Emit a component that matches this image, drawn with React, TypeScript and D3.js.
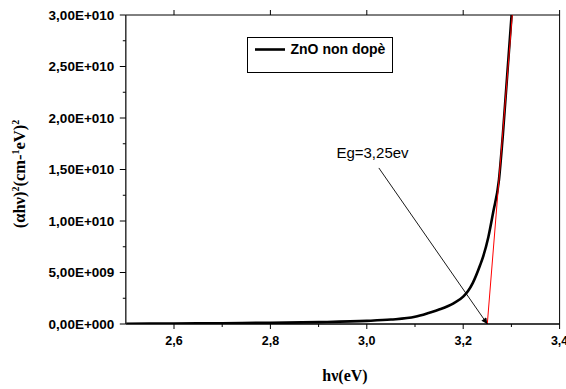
import React from "react";
import * as d3 from "d3";

// Tauc plot data: photon energy (eV) vs (αhν)² (cm⁻¹·eV)²
const photonEnergy = [2.5, 2.6, 2.7, 2.8, 2.9, 3.0, 3.05, 3.1, 3.13, 3.15, 3.18, 3.2, 3.21, 3.22, 3.235, 3.2417, 3.252, 3.2624, 3.2742, 3.282, 3.3004];
const taucValue = [2e7, 5e7, 8e7, 1.2e8, 1.8e8, 3.0e8, 4.3e8, 7.0e8, 1.1e9, 1.4e9, 2.0e9, 2.65e9, 3.2e9, 4.0e9, 5.7e9, 6.6e9, 8.4e9, 1.09e10, 1.40e10, 1.82e10, 3.0e10];

// Linear extrapolation of the absorption edge
const bandGap = 3.25;
const tangentTop = { x: 3.3018, y: 3.0e10 };

const xTicks = [2.6, 2.8, 3.0, 3.2, 3.4];
const xTickLabels = ["2,6", "2,8", "3,0", "3,2", "3,4"];
const xMinorTicks = [2.7, 2.9, 3.1, 3.3];
const yTicks = [0, 5e9, 1e10, 1.5e10, 2e10, 2.5e10, 3e10];
const yTickLabels = ["0,00E+000", "5,00E+009", "1,00E+010", "1,50E+010", "2,00E+010", "2,50E+010", "3,00E+010"];
const yMinorTicks = [2.5e9, 7.5e9, 1.25e10, 1.75e10, 2.25e10, 2.75e10];

const seriesName = "ZnO non dopè";
const annotationText = "Eg=3,25ev";
const annotationAnchor = { x: 3.025, y: 1.515e10 };
const annotationTextPos = { x: 2.937, y: 1.61e10 };

const W = 566;
const H = 389;
const plot = { left: 125.8, right: 559.6, top: 15, bottom: 324 };

export default function App() {
  const x = d3.scaleLinear().domain([2.5, 3.4]).range([plot.left, plot.right]);
  const y = d3.scaleLinear().domain([0, 3e10]).range([plot.bottom, plot.top]);

  const points: [number, number][] = photonEnergy.map((e, i) => [e, taucValue[i]]);
  const line = d3
    .line<[number, number]>()
    .x((d) => x(d[0]))
    .y((d) => y(d[1]))
    .curve(d3.curveMonotoneX);

  const sans = "'Liberation Sans', Arial, sans-serif";
  const serif = "'Liberation Serif', 'Times New Roman', serif";

  // arrow geometry
  const ax1 = x(annotationAnchor.x);
  const ay1 = y(annotationAnchor.y);
  const ax2 = x(bandGap);
  const ay2 = y(0);

  return (
    <svg width={W} height={H} style={{ position: "absolute", left: 0, top: 0, background: "#fff" }}>
      <defs>
        <marker id="arrowHead" viewBox="0 0 10 10" refX="10" refY="5" markerWidth="10" markerHeight="6" markerUnits="userSpaceOnUse" orient="auto">
          <path d="M0,0 L10,5 L0,10 z" fill="#000" />
        </marker>
        <clipPath id="plotClip">
          <rect x={plot.left} y={plot.top} width={plot.right - plot.left} height={plot.bottom - plot.top} />
        </clipPath>
      </defs>

      {/* frame */}
      <line x1={plot.left} x2={plot.right} y1={plot.top} y2={plot.top} stroke="#000" strokeWidth={1} />
      <line x1={plot.right} x2={plot.right} y1={plot.top} y2={plot.bottom} stroke="#000" strokeWidth={1} />

      {/* top axis ticks */}
      {xTicks.map((t) => (
        <line key={"tt" + t} x1={x(t)} x2={x(t)} y1={plot.top} y2={plot.top - 5} stroke="#000" strokeWidth={1} />
      ))}

      {/* curve and tangent */}
      <g clipPath="url(#plotClip)">
        <path d={line(points) || ""} fill="none" stroke="#000" strokeWidth={2.6} strokeLinejoin="round" />
        <line x1={x(bandGap)} y1={y(0)} x2={x(tangentTop.x)} y2={y(tangentTop.y)} stroke="#f00" strokeWidth={1} />
      </g>

      {/* bottom axis */}
      <line x1={plot.left} x2={plot.right} y1={plot.bottom} y2={plot.bottom} stroke="#000" strokeWidth={1.4} />
      {xTicks.map((t, i) => (
        <g key={"xt" + t}>
          <line x1={x(t)} x2={x(t)} y1={plot.bottom} y2={plot.bottom + 5} stroke="#000" strokeWidth={1} />
          <text x={x(t)} y={plot.bottom + 21} textAnchor="middle" fontFamily={sans} fontWeight="bold" fontSize={12.5}>
            {xTickLabels[i]}
          </text>
        </g>
      ))}
      {xMinorTicks.map((t) => (
        <line key={"xm" + t} x1={x(t)} x2={x(t)} y1={plot.bottom} y2={plot.bottom + 3} stroke="#000" strokeWidth={1} />
      ))}

      {/* left axis */}
      <line x1={plot.left} x2={plot.left} y1={plot.top} y2={plot.bottom} stroke="#333" strokeWidth={1.5} />
      {yTicks.map((t, i) => (
        <g key={"yt" + t}>
          <line x1={plot.left - 6} x2={plot.left} y1={y(t)} y2={y(t)} stroke="#000" strokeWidth={1} />
          <text x={plot.left - 11.5} y={y(t) + 4.5} textAnchor="end" fontFamily={sans} fontWeight="bold" fontSize={13.5}>
            {yTickLabels[i]}
          </text>
        </g>
      ))}
      {yMinorTicks.map((t) => (
        <line key={"ym" + t} x1={plot.left - 3} x2={plot.left} y1={y(t)} y2={y(t)} stroke="#000" strokeWidth={1} />
      ))}

      {/* annotation */}
      <line x1={ax1} y1={ay1} x2={ax2} y2={ay2} stroke="#000" strokeWidth={0.9} markerEnd="url(#arrowHead)" />
      <text x={x(annotationTextPos.x)} y={y(annotationTextPos.y)} fontFamily={sans} fontSize={15}>
        {annotationText}
      </text>

      {/* legend */}
      <rect x={247.5} y={37.5} width={145} height={35} fill="#fff" stroke="#000" strokeWidth={1} />
      <line x1={255} x2={285} y1={49.5} y2={49.5} stroke="#000" strokeWidth={2.6} />
      <text x={290.5} y={54} fontFamily={sans} fontWeight="bold" fontSize={14}>
        {seriesName}
      </text>

      {/* axis titles */}
      <text x={345} y={381} textAnchor="middle" fontFamily={serif} fontWeight="bold" fontSize={16}>
        hν(eV)
      </text>
      <text
        transform={`translate(25, 174) rotate(-90)`}
        textAnchor="middle"
        fontFamily={serif}
        fontWeight="bold"
        fontSize={16.5}
      >
        <tspan>(αhν)</tspan>
        <tspan fontSize={10} dy={-6}>2</tspan>
        <tspan dy={6}>(cm-</tspan>
        <tspan fontSize={10} dy={-6}>1</tspan>
        <tspan dy={6}>eV)</tspan>
        <tspan fontSize={10} dy={-6}>2</tspan>
      </text>
    </svg>
  );
}
